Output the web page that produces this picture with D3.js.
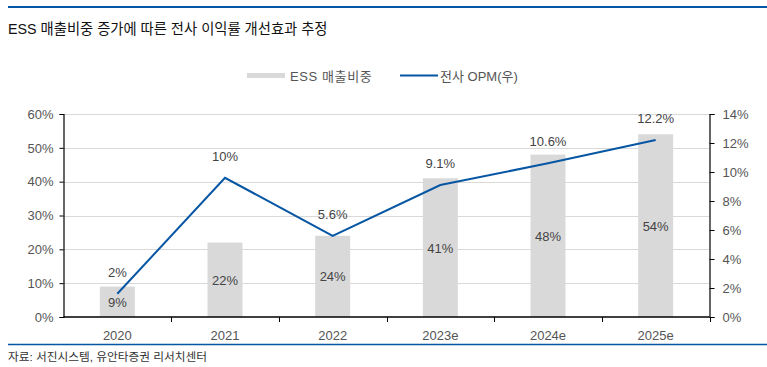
<!DOCTYPE html>
<html><head><meta charset="utf-8">
<script src="https://cdn.jsdelivr.net/npm/d3@7"></script>
<style>
body{margin:0;background:#fff;}
text{font-family:"Liberation Sans","Noto Sans CJK KR",Arial,sans-serif;}
</style></head><body>
<svg id="c" width="767" height="367"></svg>
<script>
const categories = ["2020","2021","2022","2023e","2024e","2025e"];
const essShare = [9, 22, 24, 41, 48, 54];
const essLabels = ["9%","22%","24%","41%","48%","54%"];
const opm = [1.6, 9.6, 5.6, 9.1, 10.6, 12.2];
const opmLabels = ["2%","10%","5.6%","9.1%","10.6%","12.2%"];
const leftTicks = [0,10,20,30,40,50,60];
const rightTicks = [0,2,4,6,8,10,12,14];
const title = "ESS 매출비중 증가에 따른 전사 이익률 개선효과 추정";
const source = "자료: 서진시스템, 유안타증권 리서치센터";
const legendNames = ["ESS 매출비중","전사 OPM(우)"];

const svg = d3.select("#c");
const L = 63.5, R = 709.5, T = 114, B = 317;
const x = d3.scaleBand().domain(categories).range([L, R]).paddingInner(0.675).paddingOuter(0.3375);
const xb = d3.scaleBand().domain(categories).range([L, R]);
const yL = d3.scaleLinear().domain([0, 60]).range([B, T]);
const yR = d3.scaleLinear().domain([0, 14]).range([B, T]);
const blue = "#0656a4", grey = "#d9d9d9", tc = "#555";

// top & bottom rules
svg.append("line").attr("x1",8).attr("x2",767).attr("y1",7).attr("y2",7).attr("stroke",blue).attr("stroke-width",2);
svg.append("line").attr("x1",8).attr("x2",767).attr("y1",344.5).attr("y2",344.5).attr("stroke",blue).attr("stroke-width",1.5);
svg.append("text").attr("x",8).attr("y",33.5).attr("font-size",14.3).attr("fill","#111").text(title);
svg.append("text").attr("x",8).attr("y",361).attr("font-size",11.7).attr("fill","#333").text(source);

// gridlines
svg.append("g").selectAll("line").data(leftTicks.slice(1)).join("line")
  .attr("x1",L).attr("x2",R).attr("y1",d=>Math.round(yL(d))+0.5).attr("y2",d=>Math.round(yL(d))+0.5)
  .attr("stroke",grey).attr("stroke-width",1);

// bars
svg.append("g").selectAll("rect").data(categories).join("rect")
  .attr("x",d=>x(d)).attr("width",x.bandwidth())
  .attr("y",(d,i)=>yL(essShare[i])).attr("height",(d,i)=>B-yL(essShare[i]))
  .attr("fill",grey);

// axes
const fmt = d=>d+"%";
const gl = svg.append("g").attr("transform",`translate(${L},0)`)
  .call(d3.axisLeft(yL).tickValues(leftTicks).tickFormat(fmt).tickSize(4).tickPadding(6));
const gr = svg.append("g").attr("transform",`translate(${R},0)`)
  .call(d3.axisRight(yR).tickValues(rightTicks).tickFormat(fmt).tickSize(5).tickPadding(8));
const gx = svg.append("g").attr("transform",`translate(0,${B})`)
  .call(d3.axisBottom(xb).tickSize(0).tickPadding(14));
[gl,gr].forEach(g=>{
  g.select(".domain").attr("stroke","#000").attr("stroke-width",1.2);
  g.selectAll(".tick line").attr("stroke","#000");
  g.selectAll("text").attr("font-size",13).attr("fill",tc).attr("font-family",null);
});
gx.select(".domain").remove();
gx.selectAll("text").attr("font-size",13).attr("fill",tc).attr("font-family",null);
svg.append("line").attr("x1",L).attr("x2",R).attr("y1",B).attr("y2",B).attr("stroke","#000").attr("stroke-width",1.5);
svg.append("g").selectAll("line").data(categories.slice(1).concat(["end"])).join("line")
  .attr("x1",(d,i)=>Math.round(L + xb.step()*(i+1))+0.5).attr("x2",(d,i)=>Math.round(L + xb.step()*(i+1))+0.5)
  .attr("y1",B).attr("y2",B+5).attr("stroke","#000");

// bar labels
svg.append("g").selectAll("text").data(categories).join("text")
  .attr("x",d=>x(d)+x.bandwidth()/2).attr("y",(d,i)=>(yL(essShare[i])+B)/2+5)
  .attr("text-anchor","middle").attr("font-size",13).attr("fill","#444")
  .text((d,i)=>essLabels[i]);

// line
const line = d3.line().x(d=>x(d)+x.bandwidth()/2).y((d,i)=>yR(opm[i]));
svg.append("path").datum(categories).attr("d",line).attr("fill","none").attr("stroke",blue).attr("stroke-width",2);
svg.append("g").selectAll("text").data(categories).join("text")
  .attr("x",d=>x(d)+x.bandwidth()/2).attr("y",(d,i)=>yR(opm[i])-17)
  .attr("text-anchor","middle").attr("font-size",13).attr("fill","#444")
  .text((d,i)=>opmLabels[i]);

// legend
svg.append("rect").attr("x",247).attr("y",73).attr("width",38).attr("height",5).attr("fill",grey);
svg.append("text").attr("x",290).attr("y",80.5).attr("font-size",13).attr("fill",tc).attr("letter-spacing",0.6).text(legendNames[0]);
svg.append("line").attr("x1",400).attr("x2",438).attr("y1",75.5).attr("y2",75.5).attr("stroke",blue).attr("stroke-width",2);
svg.append("text").attr("x",440).attr("y",80.5).attr("font-size",13).attr("fill",tc).text(legendNames[1]);
</script>
</body></html>
